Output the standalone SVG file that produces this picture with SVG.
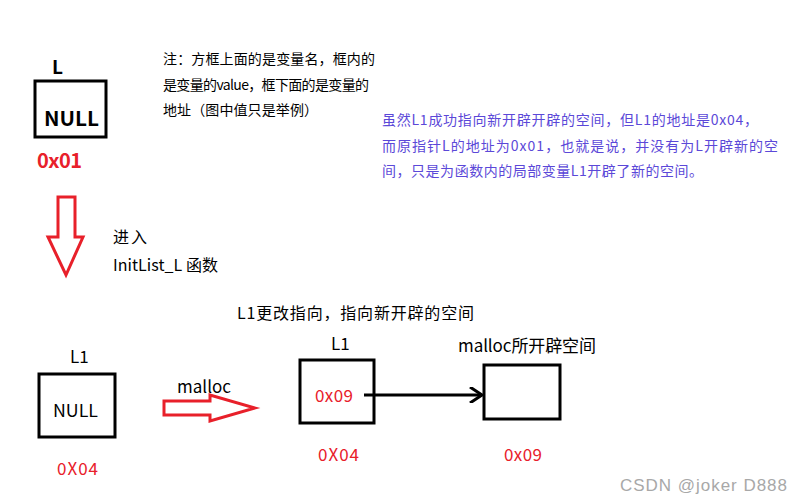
<svg xmlns="http://www.w3.org/2000/svg" width="802" height="504" viewBox="0 0 802 504">
<style>
text{font-family:"Noto Sans CJK SC","Noto Sans",sans-serif;fill:#000}
.box{fill:#fff;stroke:#000;stroke-width:3}
.red{fill:#e8202a}
.blue{fill:#5b48d8;font-size:14px}
.note{font-size:14px}
.bold{font-weight:bold}
.rarrow{fill:none;stroke:#e8202a;stroke-width:3}
</style>
<defs>
<marker id="chev" markerWidth="16" markerHeight="16" refX="13" refY="8" orient="auto" markerUnits="userSpaceOnUse">
<path d="M1,0 L13,8 L1,16" fill="none" stroke="#000" stroke-width="3"/>
</marker>
</defs>
<rect width="802" height="504" fill="#fff"/>

<g id="nodeL">
<text x="52" y="74" class="bold" font-size="19">L</text>
<rect class="box" x="35" y="81" width="71" height="56"/>
<text x="44" y="126" class="bold" font-size="20" textLength="55" lengthAdjust="spacingAndGlyphs">NULL</text>
<text x="37" y="168" class="bold red" font-size="20" textLength="45">0x01</text>
</g>

<g id="note">
<text x="163" y="64" class="note" textLength="212">注：方框上面的是变量名，框内的</text>
<text x="163" y="90" class="note" textLength="206">是变量的value，框下面的是变量的</text>
<text x="163" y="115" class="note" textLength="155">地址（图中值只是举例）</text>
</g>

<g id="explain">
<text x="382" y="125" class="blue" textLength="376">虽然L1成功指向新开辟开辟的空间，但L1的地址是0x04，</text>
<text x="382" y="151" class="blue" textLength="396">而原指针L的地址为0x01，也就是说，并没有为L开辟新的空</text>
<text x="382" y="176" class="blue" textLength="321">间，只是为函数内的局部变量L1开辟了新的空间。</text>
</g>

<g id="enter">
<path class="rarrow" d="M58,197 L75,197 L75,237 L83,237 L66,275 L48,237 L58,237 Z"/>
<text x="113" y="243" font-size="16" textLength="34">进入</text>
<text x="113" y="271" font-size="16" textLength="105">InitList_L 函数</text>
</g>

<text x="237" y="319" font-size="16" textLength="237">L1更改指向，指向新开辟的空间</text>

<g id="nodeL1a">
<text x="70" y="363" font-size="17">L1</text>
<rect class="box" x="39" y="374" width="76" height="63"/>
<text x="53" y="417" font-size="17" textLength="45" lengthAdjust="spacingAndGlyphs">NULL</text>
<text x="57" y="475" class="red" font-size="17" textLength="41">0X04</text>
</g>

<g id="malloc">
<text x="177" y="393" font-size="17" textLength="54">malloc</text>
<path class="rarrow" d="M164,401 L210,401 L210,395 L255,408 L210,421 L210,415 L164,415 Z"/>
</g>

<g id="nodeL1b">
<text x="331" y="350" font-size="17">L1</text>
<rect class="box" x="300" y="360" width="74" height="63"/>
<text x="315" y="402" class="red" font-size="17" textLength="38">0x09</text>
<text x="318" y="461" class="red" font-size="17" textLength="41">0X04</text>
</g>

<g id="nodeMem">
<text x="458" y="352" font-size="17" textLength="138">malloc所开辟空间</text>
<rect class="box" x="484" y="365" width="76" height="54"/>
<text x="504" y="461" class="red" font-size="17" textLength="38">0x09</text>
</g>

<g id="connectors">
<line x1="364" y1="395" x2="482" y2="395" stroke="#000" stroke-width="3" marker-end="url(#chev)"/>
</g>

<text x="620" y="491" font-size="17" textLength="167" style="fill:#a8a8a8;font-family:'Liberation Sans',sans-serif">CSDN @joker D888</text>
</svg>
